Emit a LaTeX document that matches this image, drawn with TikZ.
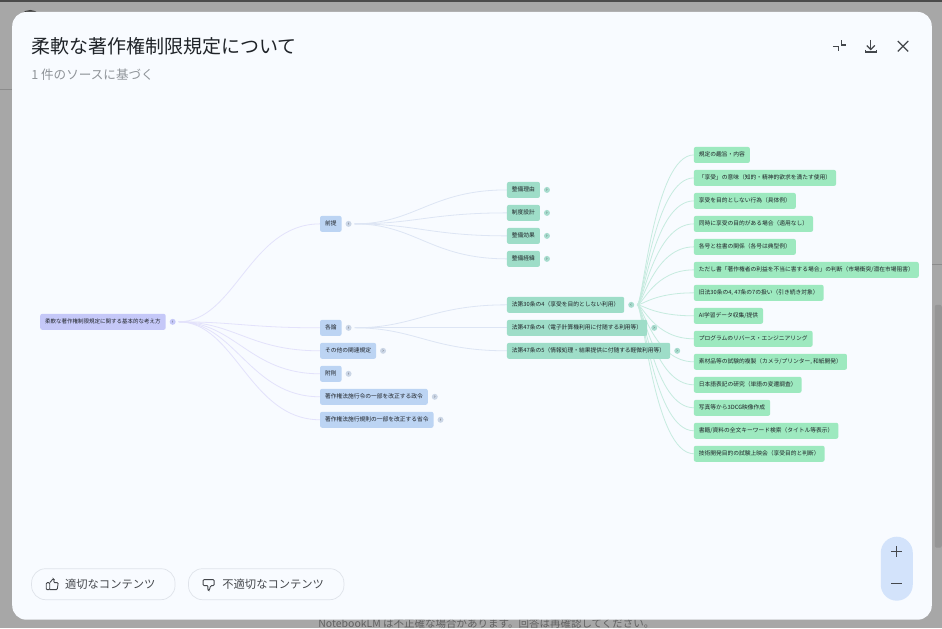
\documentclass[tikz,border=0pt]{standalone}
\usepackage{fontspec}
\setmainfont{Noto Sans CJK JP}
\usepackage{xcolor}
\usetikzlibrary{arrows.meta, calc, positioning, backgrounds}

\definecolor{backdrop}{HTML}{A7A7A7}
\definecolor{cardbg}{HTML}{F8FBFF}
\definecolor{inktext}{HTML}{1F2328}
\definecolor{greytext}{HTML}{8F9499}
\definecolor{iconink}{HTML}{44474C}
\definecolor{rootfill}{HTML}{C5C8F8}
\definecolor{sectfill}{HTML}{BCD4F3}
\definecolor{itemfill}{HTML}{9EDDC8}
\definecolor{leaffill}{HTML}{9DE9BF}
\definecolor{rootline}{HTML}{E3E2FB}
\definecolor{sectline}{HTML}{DDE5F4}
\definecolor{itemline}{HTML}{C6EBDF}
\definecolor{knobfill}{HTML}{CBD6E6}
\definecolor{pillfill}{HTML}{D3E3FB}
\definecolor{btnline}{HTML}{DFE3EA}

\begin{document}
\begin{tikzpicture}[
    x=1pt, y=-1pt,
    mapnode/.style={
        rounded corners=2pt, font=\fontsize{5.75}{6}\selectfont, text=inktext,
        minimum height=16pt, inner xsep=5pt, inner ysep=0pt, outer sep=0pt,
        text height=5pt, text depth=1pt, anchor=west
    },
    rootnode/.style={mapnode, fill=rootfill, font=\fontsize{5.5}{6}\selectfont},
    sectnode/.style={mapnode, fill=sectfill},
    itemnode/.style={mapnode, fill=itemfill},
    leafnode/.style={mapnode, fill=leaffill},
    under/.style={below=7pt of #1.south west, anchor=north west},
    knob/.style={
        circle, minimum size=6pt, inner sep=0pt, outer sep=3pt,
        font=\fontsize{5}{5}\selectfont, text=iconink, right=1pt of #1
    },
    mmlink/.style 2 args={to path={
        .. controls ($(\tikztostart)!#1!(\tikztotarget |- \tikztostart)$)
        and ($(\tikztostart |- \tikztotarget)!#2!(\tikztotarget)$) .. (\tikztotarget)}},
    rootedge/.style={mmlink={.4}{.5}, draw=rootline, line width=.8pt},
    sectedge/.style={mmlink={.4}{.5}, draw=sectline, line width=.8pt},
    itemedge/.style={mmlink={.1}{.3}, draw=itemline, line width=.8pt},
    btn/.style={
        draw=btnline, fill=cardbg, rounded corners=14pt, line width=.7pt,
        minimum height=31pt, anchor=west, font=\fontsize{11.3}{13}\selectfont,
        text=iconink, align=center
    },
    icon/.style={draw=iconink, line width=1.3pt},
]
% Column 1: Root
\node[rootnode] (root) at (40,322) {柔軟な著作権制限規定に関する基本的な考え方};
\node[knob=root, fill=rootfill] (rootknob) {‹};

% Column 2: Sections
\node[sectnode] (zentei) at (320,224) {前提};
\node[sectnode] (kakuron) at (320,328) {各論};
\node[sectnode, under=kakuron] (kanren) {その他の関連規定};
\node[sectnode, under=kanren] (fusoku) {附則};
\node[sectnode, under=fusoku] (seirei) {著作権法施行令の一部を改正する政令};
\node[sectnode, under=seirei] (shorei) {著作権法施行規則の一部を改正する省令};
\node[knob=zentei, fill=knobfill] (zenteiknob) {‹};
\node[knob=kakuron, fill=knobfill] (kakuronknob) {‹};
\node[knob=kanren, fill=knobfill] (kanrenknob) {›};
\node[knob=fusoku, fill=knobfill] (fusokuknob) {›};
\node[knob=seirei, fill=knobfill] (seireiknob) {›};
\node[knob=shorei, fill=knobfill] (shoreiknob) {›};

% Column 3: Items
\node[itemnode] (riyu) at (507,190) {整備理由};
\node[itemnode, under=riyu] (sekkei) {制度設計};
\node[itemnode, under=sekkei] (koka) {整備効果};
\node[itemnode, under=koka] (keii) {整備経緯};
\node[itemnode] (art30) at (507,305) {法第30条の4（享受を目的としない利用）};
\node[itemnode, under=art30] (art47a) {法第47条の4（電子計算機利用に付随する利用等）};
\node[itemnode, under=art47a] (art47b) {法第47条の5（情報処理・結果提供に付随する軽微利用等）};
\node[knob=riyu, fill=itemfill!80!knobfill] (riyuknob) {›};
\node[knob=sekkei, fill=itemfill!80!knobfill] (sekkeiknob) {›};
\node[knob=koka, fill=itemfill!80!knobfill] (kokaknob) {›};
\node[knob=keii, fill=itemfill!80!knobfill] (keiiknob) {›};
\node[knob=art30, fill=itemfill!80!knobfill] (art30knob) {‹};
\node[knob=art47a, fill=itemfill!80!knobfill] (art47aknob) {›};
\node[knob=art47b, fill=itemfill!80!knobfill] (art47bknob) {›};

% Column 4: Leaves
\node[leafnode] (shushi) at (694,155) {規定の趣旨・内容};
\node[leafnode, under=shushi] (imi) {「享受」の意味（知的・精神的欲求を満たす使用）};
\node[leafnode, under=imi] (koui) {享受を目的としない行為（具体例）};
\node[leafnode, under=koui] (doji) {同時に享受の目的がある場合（適用なし）};
\node[leafnode, under=doji] (kakugo) {各号と柱書の関係（各号は典型例）};
\node[leafnode, under=kakugo] (tadashi) {ただし書「著作権者の利益を不当に害する場合」の判断（市場衝突/潜在市場阻害）};
\node[leafnode, under=tadashi] (kyuho) {旧法30条の4, 47条の7の扱い（引き続き対象）};
\node[leafnode, under=kyuho] (aidata) {AI学習データ収集/提供};
\node[leafnode, under=aidata] (reverse) {プログラムのリバース・エンジニアリング};
\node[leafnode, under=reverse] (sozai) {素材品等の試験的複製（カメラ/プリンター, 和紙開発）};
\node[leafnode, under=sozai] (nihongo) {日本語表記の研究（単語の変遷調査）};
\node[leafnode, under=nihongo] (shashin) {写真等から3DCG映像作成};
\node[leafnode, under=shashin] (zenbun) {書籍/資料の全文キーワード検索（タイトル等表示）};
\node[leafnode, under=zenbun] (joei) {技術開発目的の試験上映会（享受目的と判断）};

% Dialog chrome
\node[font=\fontsize{19}{22}\selectfont, text=inktext, anchor=west] (title) at (27.5,46) {柔軟な著作権制限規定について};
\node[font=\fontsize{12.6}{15}\selectfont, text=greytext, anchor=west] (subtitle) at (27.5,75) {1 件のソースに基づく};
\node[btn, minimum width=143.5pt] (goodbtn) at (31,584.5) {\hspace{14pt}適切なコンテンツ};
\node[btn, minimum width=155.5pt] (badbtn) at (188,584.5) {\hspace{14pt}不適切なコンテンツ};
\node[fill=pillfill, rounded corners=16pt, minimum width=32pt, minimum height=64pt, inner sep=0pt] (zoompill) at (897,569) {};

% Header icons
\draw[icon] (833,46.5) -- (838.5,46.5) -- (838.5,51.5);
\draw[icon] (841.5,40.5) -- (841.5,45) -- (846,45);
\draw[icon] (871,40) -- (871,49);
\draw[icon] (867,45.5) -- (871,49.5) -- (875,45.5);
\draw[icon] (865.5,50) -- (865.5,52) -- (876.5,52) -- (876.5,50);
\draw[icon] (898,41) -- (908.5,51.5);
\draw[icon] (908.5,41) -- (898,51.5);

% Thumb icons
\draw[icon, line width=.9pt, rounded corners=1pt] (46,583) -- (49.5,583) -- (49.5,590) -- (46,590) -- cycle;
\draw[icon, line width=.9pt, rounded corners=1pt] (49.5,583) -- (53,579) -- (54,580) -- (53.5,583) -- (58,583) -- (57,590) -- (49.5,590);
\draw[icon, line width=.9pt, rounded corners=1pt] (203,580) -- (214,580) -- (214,586) -- (210.5,586) -- (209,591) -- (207.5,590) -- (208,586) -- (203,586) -- cycle;

% Zoom icons
\draw[icon, line width=1.4pt] (891.5,552) -- (902.5,552);
\draw[icon, line width=1.4pt] (897,546.5) -- (897,557.5);
\draw[icon, line width=1.4pt] (891.5,584) -- (902.5,584);

\begin{scope}[on background layer]
% Page behind the dialog
\fill[backdrop] (0,0) rectangle (942,628);
\fill[black!55!backdrop] (0,0) rectangle (942,2);
\fill[black!75] (30,22) circle (12pt);
\draw[black!45, line width=.5pt] (0,89) -- (12,89);
\draw[black!45, line width=.5pt] (932,264) -- (942,264);
\fill[black!10!backdrop, rounded corners=2pt] (935,305) rectangle (942,548);
\node[font=\fontsize{10.5}{12}\selectfont, text=black!62, anchor=west, inner sep=0pt] (notice) at (318,623.5) {NotebookLM は不正確な場合があります。回答は再確認してください。};
\fill[cardbg, rounded corners=14pt] (12,12) rectangle (932,620);

% Edges
\draw[rootedge] (rootknob.east) to (zentei.west);
\draw[rootedge] (rootknob.east) to (kakuron.west);
\draw[rootedge] (rootknob.east) to (kanren.west);
\draw[rootedge] (rootknob.east) to (fusoku.west);
\draw[rootedge] (rootknob.east) to (seirei.west);
\draw[rootedge] (rootknob.east) to (shorei.west);
\draw[sectedge] (zenteiknob.east) to (riyu.west);
\draw[sectedge] (zenteiknob.east) to (sekkei.west);
\draw[sectedge] (zenteiknob.east) to (koka.west);
\draw[sectedge] (zenteiknob.east) to (keii.west);
\draw[sectedge] (kakuronknob.east) to (art30.west);
\draw[sectedge] (kakuronknob.east) to (art47a.west);
\draw[sectedge] (kakuronknob.east) to (art47b.west);
\draw[itemedge] (art30knob.east) to (shushi.west);
\draw[itemedge] (art30knob.east) to (imi.west);
\draw[itemedge] (art30knob.east) to (koui.west);
\draw[itemedge] (art30knob.east) to (doji.west);
\draw[itemedge] (art30knob.east) to (kakugo.west);
\draw[itemedge] (art30knob.east) to (tadashi.west);
\draw[itemedge] (art30knob.east) to (kyuho.west);
\draw[itemedge] (art30knob.east) to (aidata.west);
\draw[itemedge] (art30knob.east) to (reverse.west);
\draw[itemedge] (art30knob.east) to (sozai.west);
\draw[itemedge] (art30knob.east) to (nihongo.west);
\draw[itemedge] (art30knob.east) to (shashin.west);
\draw[itemedge] (art30knob.east) to (zenbun.west);
\draw[itemedge] (art30knob.east) to (joei.west);
\end{scope}
\useasboundingbox (0,0) rectangle (942,628);
\end{tikzpicture}
\end{document}
